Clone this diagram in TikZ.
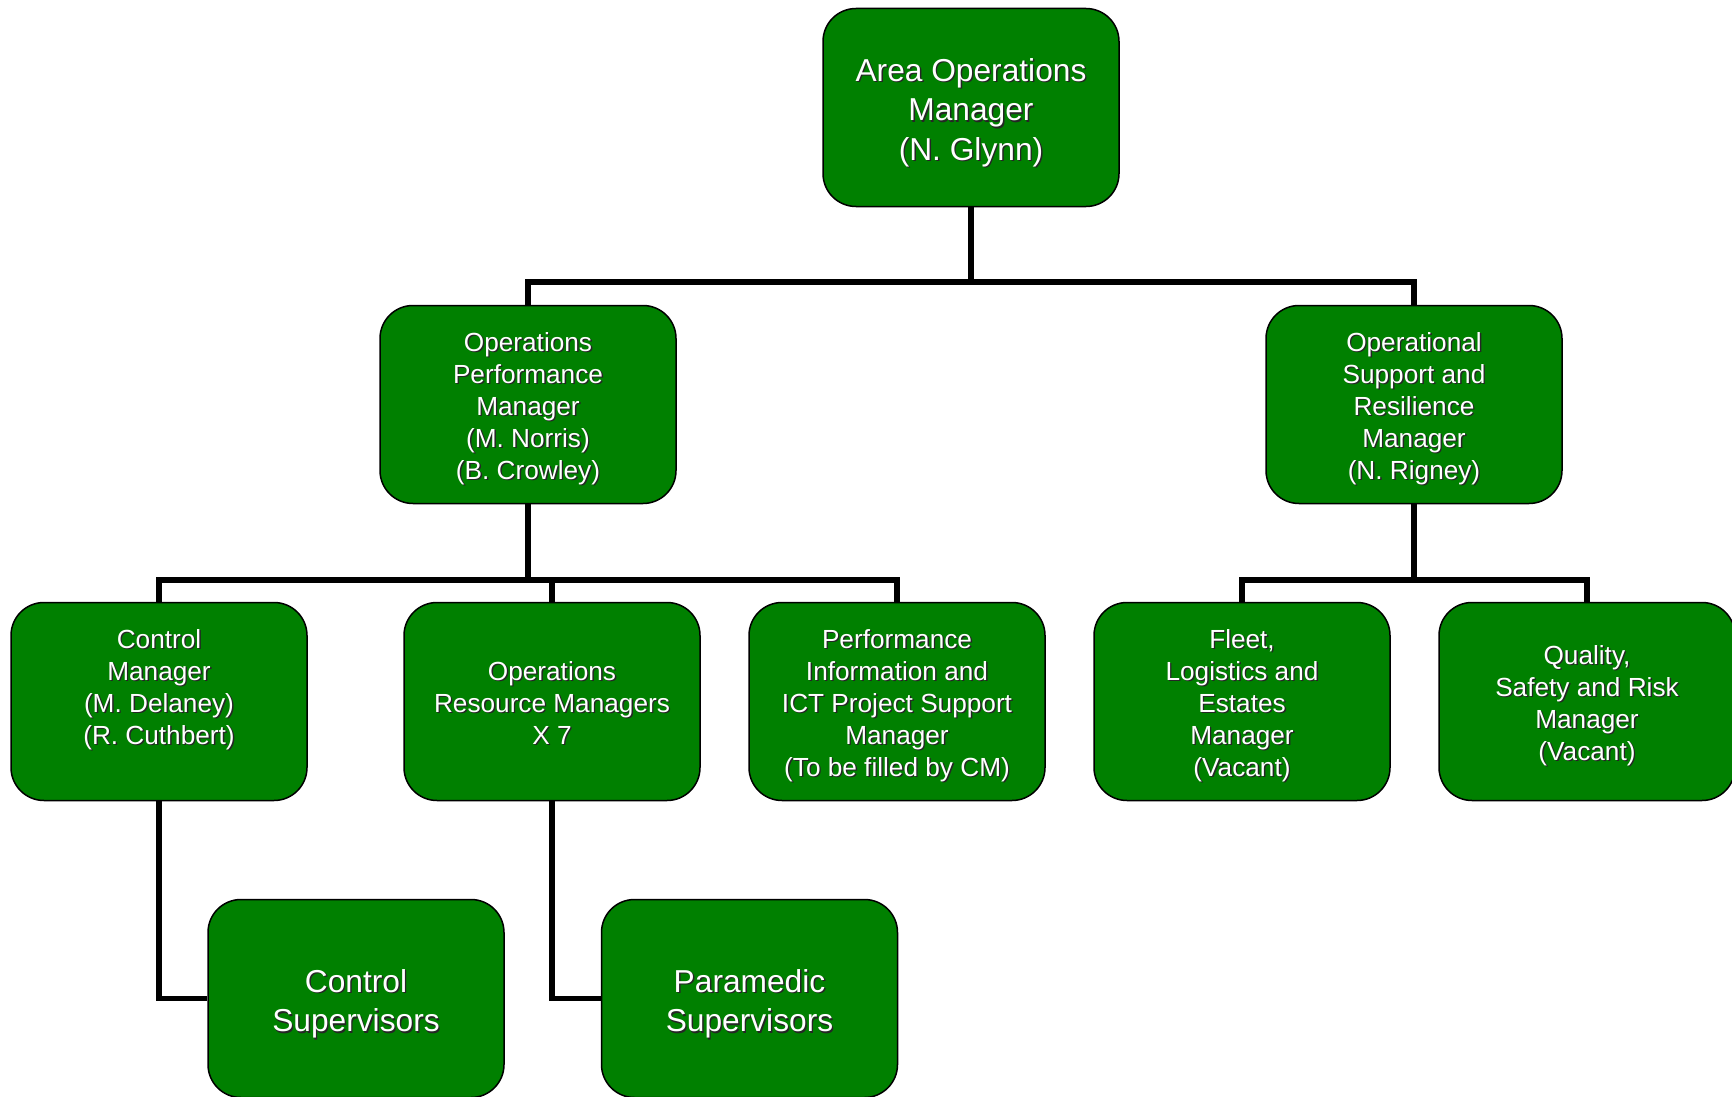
\documentclass[tikz,border=0pt]{standalone}
\usepackage{fontspec}
\setmainfont{Liberation Sans}
\definecolor{ogreen}{RGB}{0,128,0}
\newcommand\sh[1]{\leavevmode\rlap{\textcolor{black!85}{\raisebox{-1.4pt}{\kern1.4pt#1}}}#1}
\newcommand\smalltxt[1]{\fontsize{26.2}{32}\selectfont\raisebox{-4.5pt}[\height][\depth]{\begin{tabular}{@{}c@{}}#1\end{tabular}}}
\newcommand\bigtxt[1]{\fontsize{31.7}{39.5}\selectfont\raisebox{-5.5pt}[\height][\depth]{\begin{tabular}{@{}c@{}}#1\end{tabular}}}
\tikzset{
  box/.style={rectangle, rounded corners=33pt, draw=black, line width=1.5pt, fill=ogreen,
    minimum width=296pt, minimum height=198pt, inner sep=0pt, text=white},
  conn/.style={draw=black, line width=5.5pt}
}
\begin{document}
\begin{tikzpicture}[x=1pt,y=-1pt]
\useasboundingbox (0,0) rectangle (1732,1097);
\coordinate (b1) at (971,282);
\coordinate (b2) at (528,580);
\coordinate (b3) at (1414,580);
\node[box] (top) at (971,107.5) {\bigtxt{\sh{Area Operations}\\\sh{Manager}\\\sh{(N. Glynn)}}};
\node[box] (opm) at (528,404.5) {\smalltxt{\sh{Operations}\\\sh{Performance}\\\sh{Manager}\\\sh{(M. Norris)}\\\sh{(B. Crowley)}}};
\node[box] (osr) at (1414,404.5) {\smalltxt{\sh{Operational}\\\sh{Support and}\\\sh{Resilience}\\\sh{Manager}\\\sh{(N. Rigney)}}};
\node[box] (cm) at (159,701.5) {\smalltxt{\sh{Control}\\\sh{Manager}\\\sh{(M. Delaney)}\\\sh{(R. Cuthbert)}\\\mbox{}}};
\node[box] (orm) at (552,701.5) {\smalltxt{\sh{Operations}\\\sh{Resource Managers}\\\sh{X 7}}};
\node[box] (pi) at (897,701.5) {\smalltxt{\sh{Performance}\\\sh{Information and}\\\sh{ICT Project Support}\\\sh{Manager}\\\sh{(To be filled by CM)}}};
\node[box] (flm) at (1242,701.5) {\smalltxt{\sh{Fleet,}\\\sh{Logistics and}\\\sh{Estates}\\\sh{Manager}\\\sh{(Vacant)}}};
\node[box] (qsr) at (1587,701.5) {\smalltxt{\sh{Quality,}\\\sh{Safety and Risk}\\\sh{Manager}\\\sh{(Vacant)}}};
\node[box] (cs) at (356,998.5) {\bigtxt{\sh{Control}\\\sh{Supervisors}}};
\node[box] (ps) at (749.5,998.5) {\bigtxt{\sh{Paramedic}\\\sh{Supervisors}}};
\draw[conn] (top.south) -- (b1);
\draw[conn] (opm.north) |- (b1) -| (osr.north);
\draw[conn] (opm.south) -- (b2);
\draw[conn] (cm.north) |- (b2) -| (pi.north);
\draw[conn] (orm.north) -- (orm.north |- b2);
\draw[conn] (osr.south) -- (b3);
\draw[conn] (flm.north) |- (b3) -| (qsr.north);
\draw[conn] (cm.south) |- (cs.west);
\draw[conn] (orm.south) |- (ps.west);
\end{tikzpicture}
\end{document}
